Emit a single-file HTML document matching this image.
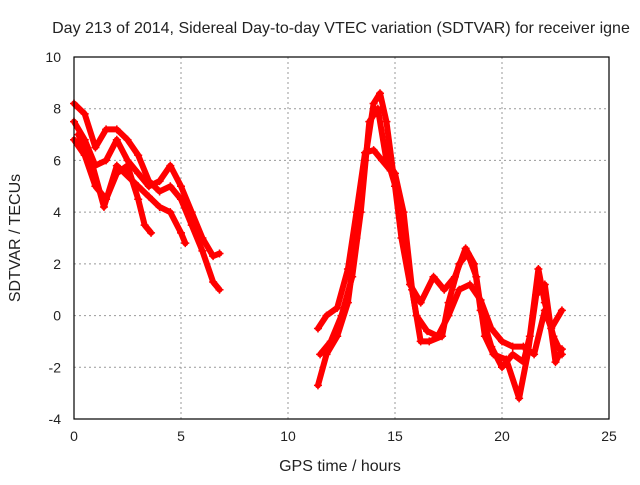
<!DOCTYPE html>
<html><head><meta charset="utf-8"><style>
body{margin:0;background:#fff}
svg text{font-family:"Liberation Sans",sans-serif;font-size:14px;fill:#222}
svg text.big{font-size:16px}
</style></head><body>
<svg id="c" width="640" height="480">
<text class="big" x="341" y="33" text-anchor="middle">Day 213 of 2014, Sidereal Day-to-day VTEC variation (SDTVAR) for receiver igne</text>
<text class="big" x="340" y="471" text-anchor="middle">GPS time / hours</text>
<text class="big" transform="translate(20,238) rotate(-90)" text-anchor="middle">SDTVAR / TECUs</text>
<g id="grid"></g><g id="series"></g>
<rect x="74" y="57" width="535" height="362" fill="none" stroke="#000" stroke-width="1.2"/>
</svg>
<script>
const xTicks=[0,5,10,15,20,25];
const yTicks=[-4,-2,0,2,4,6,8,10];
const t1x=[0,0.5,1,1.5,2,2.5,3,3.5,4,4.5,5,5.5,6,6.5,6.8];
const t1y=[8.2,7.8,6.5,7.2,7.2,6.8,6.2,5.2,4.8,5.0,4.5,3.5,2.5,1.3,1.0];
const t2x=[0,0.5,1,1.5,2,2.5,3,3.5,4,4.5,5,5.5,6,6.5,6.8];
const t2y=[7.5,6.8,5.8,6.0,6.8,6.0,5.5,5.0,5.2,5.8,5.0,4.0,3.0,2.3,2.4];
const t3x=[0,0.5,1,1.5,2,2.5,3,3.3,3.6];
const t3y=[6.8,6.2,5.0,4.5,5.5,5.8,4.5,3.5,3.2];
const t4x=[0.2,0.8,1.4,2,3,3.5,4,4.5,5,5.2];
const t4y=[7.0,6.0,4.2,5.8,5.0,4.6,4.2,4.0,3.2,2.8];
const t5x=[11.4,11.8,12.3,12.8,13.2,13.6,14,14.3,14.6,15,15.3,15.7,16.2,16.8,17.3,17.8,18.3,18.7,19,19.5,20,20.5,21,21.3,21.7,22,22.4,22.8];
const t5y=[-2.7,-1.5,-0.8,0.5,3,6,8.2,8.6,7.5,5,3,1.2,0.5,1.5,1.0,1.5,2.6,2.0,0.2,-1.2,-2.0,-1.5,-1.8,-0.8,1.8,0.5,-0.8,-1.5];
const t6x=[11.4,11.8,12.3,12.8,13.2,13.6,14,14.4,14.8,15.2,15.6,16,16.5,17,17.5,18,18.5,19,19.5,20,20.5,21,21.5,22,22.3,22.8];
const t6y=[-0.5,0.0,0.3,1.8,4,6.3,6.4,6.0,5.6,4.5,2.0,0.0,-0.6,-0.8,0.0,1.0,1.2,0.6,-0.5,-1.0,-1.2,-1.2,-1.5,0.2,-0.5,0.2];
const t7x=[11.5,12,12.5,13,13.4,13.8,14.2,14.6,15,15.4,15.8,16.2,16.6,17.2,17.5,18,18.4,18.8,19.2,19.6,20.2,20.8,21.2,21.6,22,22.5,22.8];
const t7y=[-1.5,-1.0,0.0,1.5,4.0,7.5,8.0,6.0,5.5,4.0,1.0,-1.0,-1.0,-0.8,0.5,2.0,2.4,1.5,-0.8,-1.5,-1.7,-3.2,-1.5,0.8,1.2,-1.8,-1.3];
const tracksX=[t1x,t2x,t3x,t4x,t5x,t6x,t7x];
const tracksY=[t1y,t2y,t3y,t4y,t5y,t6y,t7y];
const NS='http://www.w3.org/2000/svg';
const X=v=>74+v*(535/25), Y=v=>419-(v+4)*(362/14);
const svg=document.getElementById('c'),grid=document.getElementById('grid'),ser=document.getElementById('series');
function mk(tag,attrs,parent){const e=document.createElementNS(NS,tag);for(const k in attrs)e.setAttribute(k,attrs[k]);parent.appendChild(e);return e;}
xTicks.forEach(t=>{
 if(t>0&&t<25){const l=mk('line',{x1:X(t),x2:X(t),y1:57,y2:419,stroke:'#999','stroke-dasharray':'2,3'},grid);
 
 }
 const tx=mk('text',{x:X(t),y:441,'text-anchor':'middle'},svg);tx.textContent=t;
 
 
});
yTicks.forEach(t=>{
 if(t>-4&&t<10){const l=mk('line',{x1:74,x2:609,y1:Y(t),y2:Y(t),stroke:'#999','stroke-dasharray':'2,3'},grid);
 
 }
 const tx=mk('text',{x:61,y:Y(t)+5,'text-anchor':'end'},svg);tx.textContent=t;
 
 
});
tracksX.forEach((xs,i)=>{
 const ys=tracksY[i];
 const pts=xs.map((x,j)=>X(x)+','+Y(ys[j])).join(' ');
 const p=mk('polyline',{points:pts,fill:'none',stroke:'#f00','stroke-width':6,'stroke-linejoin':'round','stroke-linecap':'round'},ser);
 
 
 xs.forEach((x,j)=>{
  const m=mk('path',{d:`M${X(x)-4},${Y(ys[j])}h8M${X(x)},${Y(ys[j])-4}v8`,stroke:'#f00','stroke-width':1.5},ser);
  
  
 });
});
</script>
</body></html>
